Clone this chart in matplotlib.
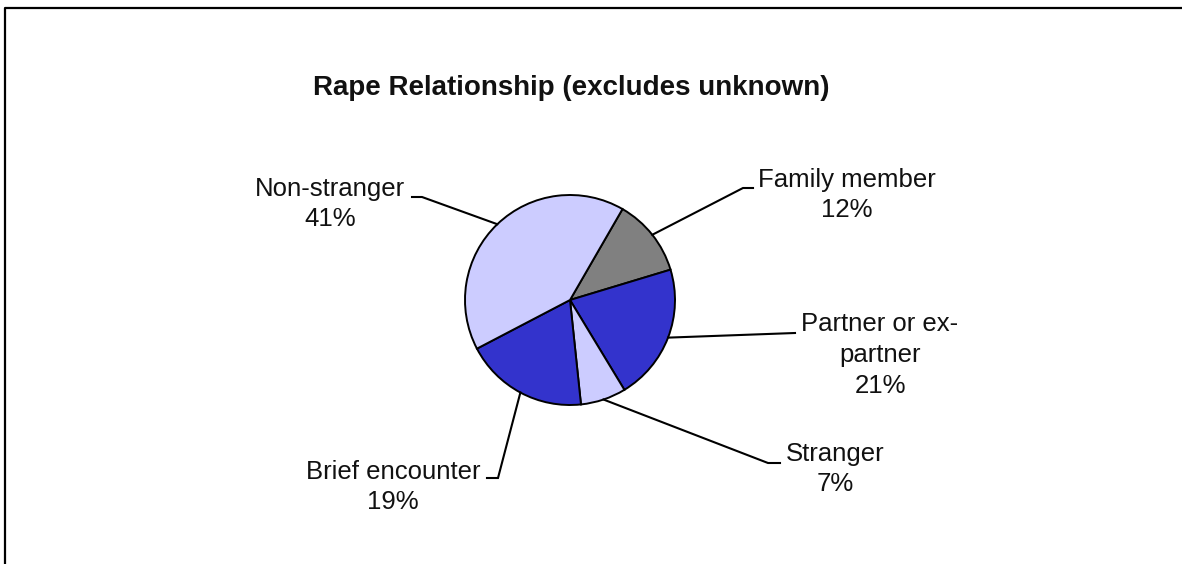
import numpy as np
import matplotlib
matplotlib.use("Agg")
import matplotlib.pyplot as plt

W, H = 1182, 564

title = "Rape Relationship (excludes unknown)"
labels = ["Family member", "Partner or ex-\npartner", "Stranger", "Brief encounter", "Non-stranger"]
shares = [12, 21, 7, 19, 41]
colors = ["#808080", "#3333CC", "#CCCCFF", "#3333CC", "#CCCCFF"]

# label layout in pixel coords: text centre, elbow point, end of leader
text_pos = [(847, 195), (880, 355), (835, 469), (393, 487), (330, 204)]
elbows = [(743, 188), (795, 333), (768, 463), (498, 478), (422, 197)]
ends = [(753, 188), (795, 333), (780, 463), (487, 478), (412, 197)]

plt.rcParams["font.family"] = ["Liberation Sans", "DejaVu Sans"]


def main():
    fig = plt.figure(figsize=(W / 100, H / 100), dpi=100)
    ax = fig.add_axes([0, 0, 1, 1])

    cx, cy, r = 570, 300, 105
    wedges, _ = ax.pie(shares, colors=colors, startangle=-60, counterclock=True,
                       center=(cx, cy), radius=r,
                       wedgeprops=dict(edgecolor="black", linewidth=1.4))

    for w, lab, tp, el, en in zip(wedges, labels, text_pos, elbows, ends):
        mid = np.deg2rad((w.theta1 + w.theta2) / 2)
        sx, sy = cx + r * np.cos(mid), cy + r * np.sin(mid)
        ax.plot([sx, el[0], en[0]], [sy, el[1], en[1]], color="black", lw=1.5,
                solid_joinstyle="miter")
        pct = f"{shares[labels.index(lab)]}%"
        ax.text(tp[0], tp[1], f"{lab}\n{pct}", ha="center", va="center",
                fontsize=18.5, color="#111111", linespacing=1.35)

    ax.text(571, 88, title, ha="center", va="center", fontsize=20,
            fontweight="bold", color="#111111")

    # chart border (only left and top visible)
    ax.plot([5, 5, W + 5], [H + 5, 8, 8], color="black", lw=1.6)

    ax.set_xlim(0, W)
    ax.set_ylim(H, 0)
    ax.set_aspect("auto")
    ax.axis("off")
    fig.savefig("out.png", dpi=100, facecolor="white")


if __name__ == "__main__":
    main()
